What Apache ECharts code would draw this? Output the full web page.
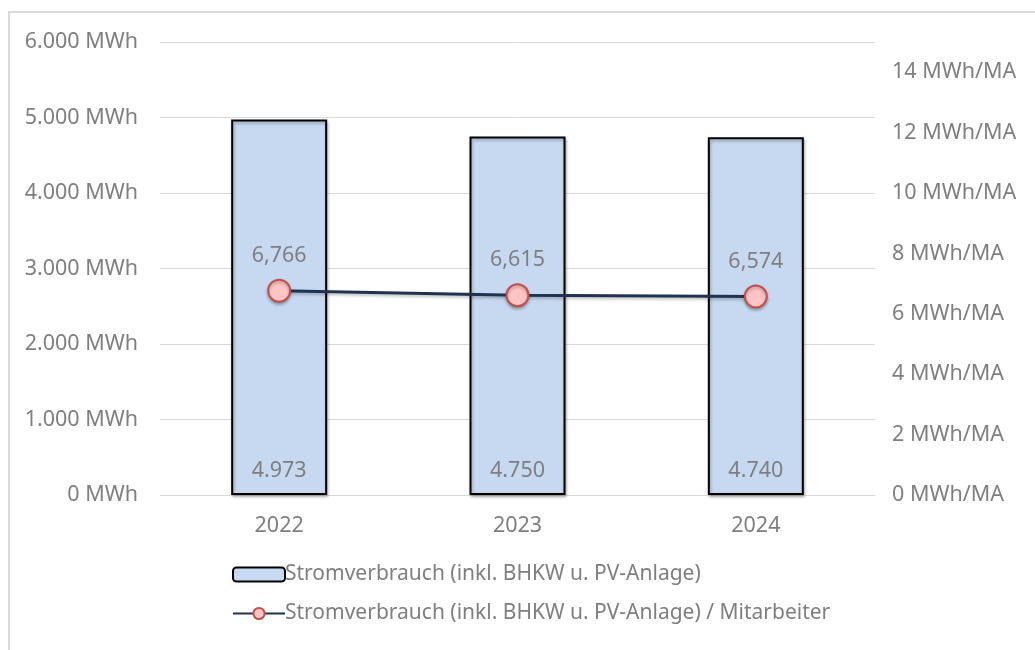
<!DOCTYPE html>
<html lang="de">
<head>
    <meta charset="UTF-8">
    <title>Stromverbrauch</title>
    <script src="https://cdn.jsdelivr.net/npm/echarts@6/dist/echarts.min.js"></script>
    <style>
        html, body { margin: 0; padding: 0; background: #fff; }
        #frame { position: absolute; left: 8px; top: 11px; width: 1040px; height: 660px; border: 2px solid #d9d9d9; box-sizing: border-box; }
        #main { position: absolute; left: 0; top: 0; width: 1035px; height: 650px; }
    </style>
</head>
<body>
<div id="frame"></div>
<div id="main"></div>
<script>
    // Daten
    var jahre = ['2022', '2023', '2024'];
    var verbrauch = [4973, 4750, 4740];          // MWh
    var proMitarbeiter = [6.766, 6.615, 6.574];   // MWh/MA
    var nameBar = 'Stromverbrauch (inkl. BHKW u. PV-Anlage)';
    var nameLine = 'Stromverbrauch (inkl. BHKW u. PV-Anlage) / Mitarbeiter';

    function tausender(v) {
        return String(Math.round(v)).replace(/\B(?=(\d{3})+(?!\d))/g, '.');
    }

    var grau = '#7f7f7f';
    var schrift = 'Noto Sans';
    var groesse = 21.5;

    var myChart = echarts.init(document.getElementById('main'));
    var option = {
        animation: false,
        textStyle: { fontFamily: schrift },
        legend: {
            orient: 'vertical',
            left: 227,
            top: 559,
            itemWidth: 52,
            itemHeight: 14,
            itemGap: 18,
            textStyle: { color: grau, fontSize: 21, fontFamily: schrift, padding: [0, 0, 0, -5] },
            data: [nameBar, nameLine]
        },
        grid: { left: 160, right: 160, top: 42, bottom: 155 },
        xAxis: {
            type: 'category',
            data: jahre,
            axisLine: { lineStyle: { color: '#d9d9d9', width: 1 } },
            axisTick: { show: false },
            axisLabel: { color: grau, fontSize: groesse, fontFamily: schrift, margin: 20 }
        },
        yAxis: [
            {
                type: 'value',
                min: 0,
                max: 6000,
                interval: 1000,
                axisLine: { show: false },
                axisTick: { show: false },
                splitLine: { lineStyle: { color: '#d9d9d9', width: 1 } },
                axisLabel: {
                    color: grau, fontSize: groesse, fontFamily: schrift, margin: 22,
                    formatter: function (v) { return tausender(v) + ' MWh'; }
                }
            },
            {
                type: 'value',
                min: 0,
                max: 15,
                interval: 2,
                axisLine: { show: false },
                axisTick: { show: false },
                splitLine: { show: false },
                axisLabel: {
                    color: grau, fontSize: groesse, fontFamily: schrift, margin: 17,
                    formatter: function (v) { return v % 2 === 0 ? v + ' MWh/MA' : ''; }
                }
            }
        ],
        series: [
            {
                name: nameBar,
                type: 'bar',
                data: verbrauch,
                barWidth: 96,
                itemStyle: {
                    color: '#c6d9f1',
                    borderColor: '#000000',
                    borderWidth: 2,
                    shadowColor: 'rgba(0,0,0,0.3)',
                    shadowBlur: 3,
                    shadowOffsetX: 1,
                    shadowOffsetY: 2
                },
                label: {
                    show: true,
                    position: 'insideBottom',
                    distance: 13,
                    color: grau,
                    fontSize: groesse,
                    fontFamily: schrift,
                    formatter: function (p) { return tausender(p.value); }
                }
            },
            {
                name: nameLine,
                type: 'line',
                yAxisIndex: 1,
                data: proMitarbeiter,
                symbol: 'circle',
                symbolSize: 22,
                lineStyle: {
                    color: '#1f3350',
                    width: 3,
                    shadowColor: 'rgba(0,0,0,0.25)',
                    shadowBlur: 3,
                    shadowOffsetY: 2
                },
                itemStyle: {
                    color: '#ffc4c4',
                    borderColor: '#c0504d',
                    borderWidth: 2,
                    shadowColor: 'rgba(0,0,0,0.25)',
                    shadowBlur: 3,
                    shadowOffsetY: 2
                },
                label: {
                    show: true,
                    position: 'top',
                    distance: 12,
                    color: grau,
                    fontSize: groesse,
                    fontFamily: schrift,
                    formatter: function (p) { return p.value.toFixed(3).replace('.', ','); }
                }
            }
        ]
    };
    myChart.setOption(option);
</script>
</body>
</html>
